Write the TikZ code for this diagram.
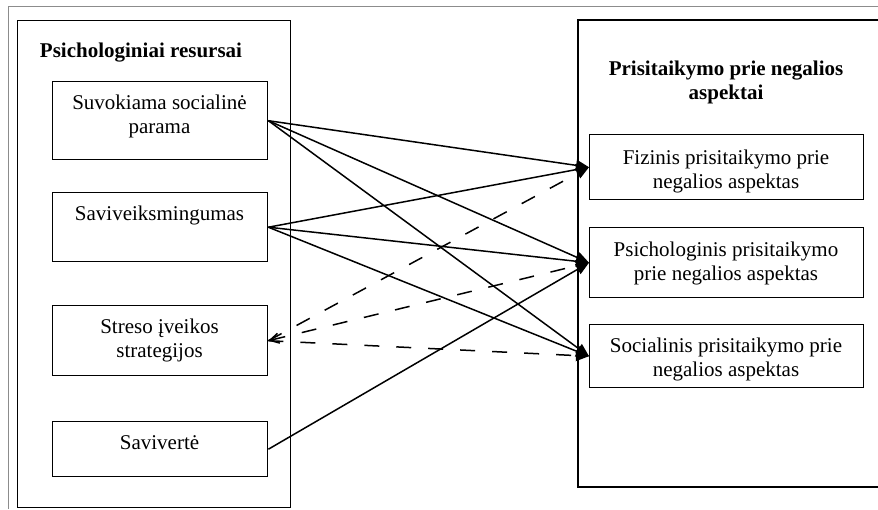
\documentclass[tikz,border=0pt]{standalone}
\usepackage{fontspec}
\setmainfont{Liberation Serif}
\usetikzlibrary{arrows.meta}
\begin{document}
\begin{tikzpicture}[x=1pt,y=-1pt,
  every node/.style={font=\fontsize{21}{24}\selectfont},
  panel/.style={draw=black,line width=1.4pt,anchor=north west,inner sep=0pt},
  box/.style={draw=black,line width=1.4pt,anchor=north west,inner sep=0pt},
  lbl/.style={align=center,inner sep=0pt},
  ttl/.style={align=center,inner sep=0pt,font=\fontsize{21}{24}\selectfont\bfseries},
  conn/.style={line width=1.5pt,-{Triangle[length=13pt,width=11pt]}},
  dconn/.style={line width=1.5pt,dash pattern=on 15pt off 17pt,-{Triangle[length=13pt,width=11pt]}},
  frame/.style={draw=black!45,line width=1pt}
]
\useasboundingbox (0,0) rectangle (878,509);
\fill[white] (0,0) rectangle (878,509);
% outer gray frame
\draw[frame] (878,6) -| (8,509);
% left panel
\node[panel,minimum width=273pt,minimum height=487pt] (lp) at (17,20) {};
\node[ttl] (lt) at (141,53) {Psichologiniai resursai};
% right panel (continues beyond the right edge)
\draw[line width=1.4pt] (890,20) -| (578,487) -- (890,487);
\node[ttl] (rt) at (726,82) {Prisitaikymo prie negalios\\aspektai};
% left boxes
\node[box,minimum width=215pt,minimum height=78pt] (A) at (52,81) {};
\node[lbl] (At) at (159.5,116) {Suvokiama socialinė\\parama};
\node[box,minimum width=215pt,minimum height=69pt] (B) at (52,192) {};
\node[lbl] (Bt) at (159.5,215) {Saviveiksmingumas};
\node[box,minimum width=215pt,minimum height=70pt] (C) at (52,305) {};
\node[lbl] (Ct) at (159.5,340) {Streso įveikos\\strategijos};
\node[box,minimum width=215pt,minimum height=55pt] (D) at (52,421) {};
\node[lbl] (Dt) at (159.5,443) {Savivertė};
% right boxes
\node[box,minimum width=274pt,minimum height=65pt] (F) at (589,134) {};
\node[lbl] (Ft) at (726,171) {Fizinis prisitaikymo prie\\negalios aspektas};
\node[box,minimum width=274pt,minimum height=70pt] (P) at (589,227) {};
\node[lbl] (Pt) at (726,263.5) {Psichologinis prisitaikymo\\prie negalios aspektas};
\node[box,minimum width=274pt,minimum height=63pt] (S) at (589,324) {};
\node[lbl] (St) at (726,359) {Socialinis prisitaikymo prie\\negalios aspektas};
% connectors
\draw[conn] (A.east) -- (F.west);
\draw[conn] (A.east) -- (P.west);
\draw[conn] (A.east) -- (S.west);
\draw[conn] (B.east) -- (F.west);
\draw[conn] (B.east) -- (P.west);
\draw[conn] (B.east) -- (S.west);
\draw[conn] (D.east) -- (P.west);
\draw[dconn] (C.east) -- (F.west);
\draw[dconn,{Straight Barb[length=9pt,width=10pt]}-{Triangle[length=13pt,width=11pt]}] (C.east) -- (P.west);
\draw[dconn] (C.east) -- (S.west);
\end{tikzpicture}
\end{document}
